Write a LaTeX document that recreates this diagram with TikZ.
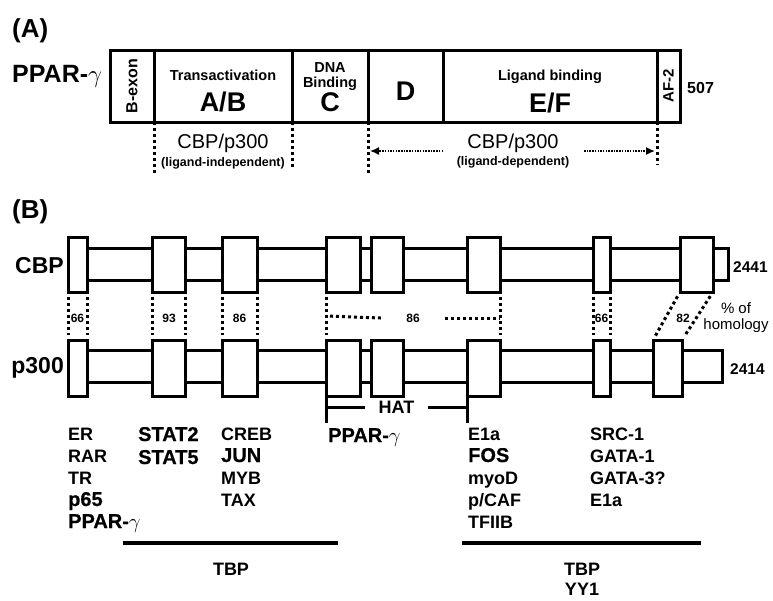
\documentclass[tikz,border=0pt]{standalone}
\usepackage{fontspec}
\setmainfont{Liberation Sans}
\newfontface\heavyface{Liberation Sans Bold}[FakeBold=0.5]
\usetikzlibrary{positioning,arrows.meta,calc}
\tikzset{
  dombox/.style={draw, line width=3pt, fill=white, inner sep=0pt, outer sep=0pt},
  ppardom/.style={dombox, minimum height=72pt},
  cbpbox/.style={dombox, minimum height=55pt},
  pbox/.style={dombox, minimum height=56pt},
  backbone/.style={dombox, minimum height=32pt},
  dotlink/.style={line width=3pt, dash pattern=on 3pt off 3pt},
  softdots/.style={line width=1.5pt, dash pattern=on 1.5pt off 1.2pt, -{Latex[length=9pt, width=8pt]}, shorten >=2pt},
  txt/.style={inner sep=0pt, anchor=base},
  smallbold/.style={font=\fontsize{14.5}{14.5}\selectfont\bfseries},
  bigbold/.style={font=\fontsize{27}{27}\selectfont\bfseries},
  homlbl/.style={font=\fontsize{12}{12}\selectfont\bfseries, inner sep=0pt},
  listcol/.style={inner sep=0pt, anchor=base west, align=left, font=\fontsize{18}{22}\selectfont\bfseries},
  tbpline/.style={line width=4pt},
  hatline/.style={line width=3pt}
}
\newcommand{\bigfactor}[1]{{\fontsize{20}{22}\selectfont\heavyface #1}}

\begin{document}
\begin{tikzpicture}[x=1pt, y=-1pt]
  \useasboundingbox (0,0) rectangle (773,600);

  % (A) PPAR-gamma domains
  \node[txt, anchor=base west, font=\fontsize{26}{26}\selectfont\bfseries] (labA) at (12,37) {(A)};
  \node[txt, anchor=base west, font=\fontsize{25}{25}\selectfont\bfseries] (ppar) at (12,82) {PPAR-$\gamma$};
  \node[ppardom, minimum width=44pt] (bexon) at (132,86) {};
  \node[ppardom, minimum width=138pt] (ab) at (223,86) {};
  \node[ppardom, minimum width=76pt] (cdom) at (330,86) {};
  \node[ppardom, minimum width=75pt] (ddom) at (405.5,86) {};
  \node[ppardom, minimum width=214pt] (efdom) at (550,86) {};
  \node[ppardom, minimum width=23pt] (af2) at (668.5,86) {};

  \node[rotate=90, inner sep=0pt, font=\fontsize{16}{16}\selectfont\bfseries] (bexonlbl) at (bexon) {B-exon};
  \node[txt, smallbold] (abtop) at (223,80) {Transactivation};
  \node[txt, bigbold] (ablbl) at (223,111) {A/B};
  \node[txt, smallbold] (ctop) at (330,72) {DNA};
  \node[txt, smallbold] (cmid) at (330,87) {Binding};
  \node[txt, bigbold] (clbl) at (330,111) {C};
  \node[txt, bigbold] (dlbl) at (405.5,100) {D};
  \node[txt, smallbold] (eftop) at (550,80) {Ligand binding};
  \node[txt, bigbold] (eflbl) at (550,112) {E/F};
  \node[rotate=90, inner sep=0pt, font=\fontsize{15}{15}\selectfont\bfseries] (aflbl) at (af2) {AF-2};
  \node[txt, anchor=base west, font=\fontsize{16}{16}\selectfont\bfseries] (len507) at (687,93) {507};

  % co-activator regions
  \coordinate (m1) at (154,175);
  \coordinate (m2) at (292,168);
  \coordinate (m3) at (368,175);
  \coordinate (m4) at (657,165);
  \draw[dotlink] (ab.south west) -- (m1);
  \draw[dotlink] (cdom.south west) -- (m2);
  \draw[dotlink] (ddom.south west) -- (m3);
  \draw[dotlink] (af2.south west) -- (m4);

  \node[txt, font=\fontsize{20}{20}\selectfont] (cbpind) at (223,148) {CBP/p300};
  \node[txt, font=\fontsize{12.5}{12.5}\selectfont\bfseries] (ligind) at (223,166) {(ligand-independent)};
  \node[txt, font=\fontsize{20}{20}\selectfont] (cbpdep) at (513,148) {CBP/p300};
  \node[txt, font=\fontsize{12.5}{12.5}\selectfont\bfseries] (ligdep) at (513,165) {(ligand-dependent)};
  \coordinate (depL) at (443,151);
  \coordinate (depR) at (584,151);
  \draw[softdots] (depL) -- (depL -| ddom.south west);
  \draw[softdots] (depR) -- (depR -| af2.south west);

  % (B) CBP and p300
  \node[txt, anchor=base west, font=\fontsize{26}{26}\selectfont\bfseries] (labB) at (12,218) {(B)};
  \node[txt, anchor=base east, font=\fontsize{23}{23}\selectfont\bfseries] (cbplbl) at (64,273) {CBP};
  \node[txt, anchor=base east, font=\fontsize{23}{23}\selectfont\bfseries] (p300lbl) at (64,373) {p300};

  \node[backbone, minimum width=660pt] (cbar) at (398,264) {};
  \node[cbpbox, minimum width=19pt] (c1) at (77.5,264.5) {};
  \node[cbpbox, minimum width=33pt] (c2) at (168.5,264.5) {};
  \node[cbpbox, minimum width=35pt] (c3) at (239.5,264.5) {};
  \node[cbpbox, minimum width=34pt] (c4) at (343,264.5) {};
  \node[cbpbox, minimum width=32pt] (c5) at (387,264.5) {};
  \node[cbpbox, minimum width=33pt] (c6) at (483.5,264.5) {};
  \node[cbpbox, minimum width=17pt] (c7) at (601.5,264.5) {};
  \node[cbpbox, minimum width=33pt] (c8) at (696.5,264.5) {};
  \node[txt, anchor=base west, font=\fontsize{15.5}{15.5}\selectfont\bfseries] (len2441) at (733,272) {2441};

  \node[backbone, minimum width=654pt] (pbar) at (395,366) {};
  \node[pbox, minimum width=19pt] (p1) at (77.5,368) {};
  \node[pbox, minimum width=33pt] (p2) at (168.5,368) {};
  \node[pbox, minimum width=35pt] (p3) at (239.5,368) {};
  \node[pbox, minimum width=34pt] (p4) at (343,368) {};
  \node[pbox, minimum width=32pt] (p5) at (387,368) {};
  \node[pbox, minimum width=33pt] (p6) at (483.5,368) {};
  \node[pbox, minimum width=17pt] (p7) at (601.5,368) {};
  \node[pbox, minimum width=29pt] (p8) at (667.5,368) {};
  \node[txt, anchor=base west, font=\fontsize{15.5}{15.5}\selectfont\bfseries] (len2414) at (730,374) {2414};

  % homology links
  \draw[dotlink, shorten <=5pt, shorten >=5pt] (c1.south west) -- (p1.north west);
  \draw[dotlink, shorten <=5pt, shorten >=5pt] (c1.south east) -- (p1.north east);
  \draw[dotlink, shorten <=5pt, shorten >=5pt] (c2.south west) -- (p2.north west);
  \draw[dotlink, shorten <=5pt, shorten >=5pt] (c2.south east) -- (p2.north east);
  \draw[dotlink, shorten <=5pt, shorten >=5pt] (c3.south west) -- (p3.north west);
  \draw[dotlink, shorten <=5pt, shorten >=5pt] (c3.south east) -- (p3.north east);
  \draw[dotlink, shorten <=5pt, shorten >=5pt] (c4.south west) -- (p4.north west);
  \draw[dotlink, shorten <=5pt, shorten >=5pt] (c6.south east) -- (p6.north east);
  \draw[dotlink, shorten <=5pt, shorten >=5pt] (c7.south west) -- (p7.north west);
  \draw[dotlink, shorten <=5pt, shorten >=5pt] (c7.south east) -- (p7.north east);
  \draw[dotlink, shorten <=5pt, shorten >=5pt] (c8.south west) -- (p8.north west);
  \draw[dotlink, shorten <=5pt, shorten >=5pt] (c8.south east) -- (p8.north east);

  \node[homlbl] (hom1) at (77.5,318) {66};
  \node[homlbl] (hom2) at (169,318) {93};
  \node[homlbl] (hom3) at (239.5,318) {86};
  \node[homlbl, minimum width=64pt] (hom4) at (413,318) {86};
  \node[homlbl] (hom7) at (601.5,318) {66};
  \node[homlbl] (hom8) at (683,318) {82};
  \coordinate (h4) at ($(c4.south west)!0.5!(p4.north west)$);
  \draw[dotlink, shorten <=4pt] (h4) -- (hom4.west);
  \draw[dotlink] (hom4.east) -- (hom4.east -| c6.south east);
  \node[inner sep=0pt, align=center, font=\fontsize{15}{16}\selectfont] (homnote) at (736,318) {\%~of\\homology};

  % HAT domain
  \node[txt, font=\fontsize{18}{18}\selectfont\bfseries] (hat) at (396.5,413) {HAT};
  \coordinate (hatL) at (326,423);
  \coordinate (hatR) at (467,423);
  \coordinate (hatLa) at (326,407);
  \coordinate (hatLb) at (365,407);
  \coordinate (hatRa) at (428,407);
  \coordinate (hatRb) at (467,407);
  \draw[hatline] (p4.south west) -- (hatL);
  \draw[hatline] (p6.south west) -- (hatR);
  \draw[hatline] (hatLa) -- (hatLb);
  \draw[hatline] (hatRa) -- (hatRb);

  % interacting factors (anchored at the baseline of the last line)
  \node[listcol] (col1) at (68,528) {ER\\RAR\\TR\\\bigfactor{p65}\\\bigfactor{PPAR-$\gamma$}};
  \node[listcol] (col2) at (138,464) {\bigfactor{STAT2}\\[1pt]\bigfactor{STAT5}};
  \node[listcol] (col3) at (221,506) {CREB\\\bigfactor{JUN}\\MYB\\TAX};
  \node[listcol] (col4) at (328,442) {\bigfactor{PPAR-$\gamma$}};
  \node[listcol] (col5) at (468,528) {E1a\\\bigfactor{FOS}\\myoD\\p/CAF\\TFIIB};
  \node[listcol] (col6) at (590,506) {SRC-1\\GATA-1\\GATA-3?\\E1a};

  % TBP binding
  \coordinate (tbp1a) at (123,543);
  \coordinate (tbp1b) at (338,543);
  \coordinate (tbp2a) at (462,543);
  \coordinate (tbp2b) at (701,543);
  \draw[tbpline] (tbp1a) -- (tbp1b);
  \draw[tbpline] (tbp2a) -- (tbp2b);
  \node[txt, font=\fontsize{18}{18}\selectfont\bfseries] (tbp1) at (231,575) {TBP};
  \node[txt, font=\fontsize{18}{18}\selectfont\bfseries] (tbp2) at (582,575) {TBP};
  \node[txt, font=\fontsize{18}{18}\selectfont\bfseries] (yy1) at (582,595) {YY1};
\end{tikzpicture}
\end{document}
